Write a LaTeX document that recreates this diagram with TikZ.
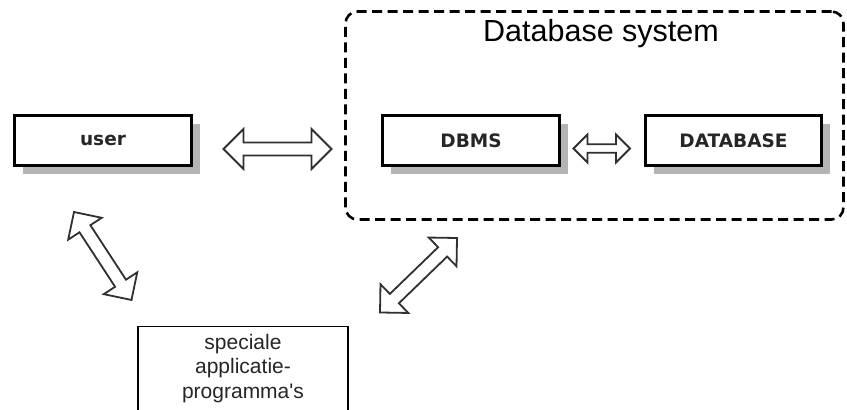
\documentclass[tikz,border=0pt]{standalone}
\usepackage{fontspec}
\setmainfont{Liberation Sans}
\newfontfamily\labelfont{DejaVu Sans}
\usetikzlibrary{shadows,calc}

\definecolor{shadowgray}{HTML}{B4B4B4}
\definecolor{arrowline}{HTML}{303030}

\tikzset{
  entity/.style={draw=black, line width=3pt, fill=white,
    minimum width=177pt, minimum height=50pt, inner sep=0pt,
    font=\labelfont\bfseries\fontsize{18.5}{22}\selectfont, text=black!85,
    general shadow={fill=shadowgray, shadow xshift=8pt, shadow yshift=-8pt}},
  container/.style={draw=black, line width=2.6pt, dash pattern=on 10pt off 5.5pt,
    rounded corners=12pt, inner sep=0pt},
  appbox/.style={draw=black, line width=1.4pt, fill=white, inner sep=0pt},
  apptext/.style={align=center, font=\fontsize{21}{24.5}\selectfont, text=black!85, inner sep=0pt},
  title/.style={font=\fontsize{30.5}{34}\selectfont, inner sep=0pt},
  blockarrow/.style={draw=arrowline, line width=1.8pt, fill=white, line join=miter},
}

% hollow double-headed block arrow between two tips:
% #1,#2 tips, #3 half shaft width, #4 half head width, #5 head length
\newcommand\hollowarrow[5]{%
  \draw[blockarrow] let \p1=(#1), \p2=(#2),
      \n1={atan2(\y2-\y1,\x2-\x1)}, \n2={veclen(\x2-\x1,\y2-\y1)} in
    [shift={(\p1)}, rotate=\n1]
    (0pt,0pt) -- (#5pt,#4pt) -- (#5pt,#3pt) -- ({\n2-#5pt},#3pt)
    -- ({\n2-#5pt},#4pt) -- (\n2,0pt) -- ({\n2-#5pt},-#4pt)
    -- ({\n2-#5pt},-#3pt) -- (#5pt,-#3pt) -- (#5pt,-#4pt) -- cycle;}

\begin{document}
\begin{tikzpicture}[x=1pt, y=-1pt]
  \useasboundingbox (0,0) rectangle (847,410);
  \clip (0,0) rectangle (847,410);

  % database system frame
  \node[container, minimum width=498pt, minimum height=208pt] (dbsys) at (594.5,115.5) {};
  \node[title, anchor=base] (dbsystitle) at (601,41) {Database system};

  % main entities
  \node[entity] (user) at (103,140.5) {user};
  \node[entity] (dbms) at (471,140.5) {DBMS};
  \node[entity, minimum width=176pt] (database) at (733.5,140.5) {DATABASE};

  % application programs (box runs past the lower edge)
  \node[appbox, minimum width=210pt, minimum height=110pt, anchor=north] (apps) at (243,325.5) {};
  \node[apptext] (appslabel) at (243,368.5) {speciale\\applicatie-\\programma\textquotesingle s};

  % arrow end points
  \coordinate (ua) at (223.5,149);
  \coordinate (ub) at (331.5,149);
  \coordinate (da) at (573.5,148.5);
  \coordinate (db) at (630,148.5);
  \coordinate (la) at (74,212);
  \coordinate (lb) at (131.5,300);
  \coordinate (ra) at (457,238);
  \coordinate (rb) at (380,312.5);

  % hollow double arrows
  \hollowarrow{ua}{ub}{6.5}{20}{20}
  \hollowarrow{da}{db}{4.2}{14}{14}
  \hollowarrow{la}{lb}{6.5}{20}{20}
  \hollowarrow{ra}{rb}{6.5}{20}{20}
\end{tikzpicture}
\end{document}
